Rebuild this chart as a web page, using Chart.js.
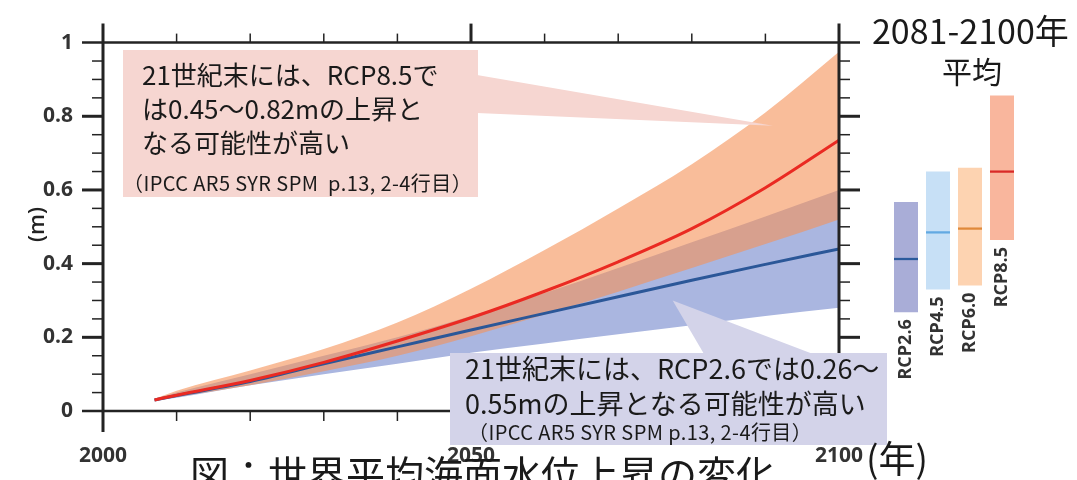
<!DOCTYPE html>
<html lang="ja">
<head>
<meta charset="utf-8">
<script src="https://cdn.jsdelivr.net/npm/chart.js@4.4.1/dist/chart.umd.min.js"></script>
<style>
  html, body { margin: 0; padding: 0; background: #fff; }
  body { width: 1077px; height: 480px; position: relative; overflow: hidden; font-family: "Noto Sans CJK JP", "Noto Sans", sans-serif; color: #1a1a1a; }
  canvas { position: absolute; top: 0; }
  #main { left: 0; }
  #bars { left: 890px; }
  .t { position: absolute; white-space: pre; }
  .big { font-size: 26px; line-height: 34px; }
  .small { font-size: 20px; line-height: 22px; letter-spacing: 0.4px; }
</style>
</head>
<body>
<canvas id="main" width="1077" height="480"></canvas>
<canvas id="bars" width="128" height="480"></canvas>

<div class="t big" style="left:142px; top:57px;">21世紀末には、RCP8.5で
は0.45～0.82mの上昇と
なる可能性が高い</div>
<div class="t small" style="left:123px; top:172px;">（IPCC AR5 SYR SPM  p.13, 2-4行目）</div>

<div class="t big" style="left:465px; top:350px; font-size:27px; line-height:35px;">21世紀末には、RCP2.6では0.26～
0.55mの上昇となる可能性が高い</div>
<div class="t small" style="left:468px; top:421px;">（IPCC AR5 SYR SPM p.13, 2-4行目）</div>

<div class="t" style="left:872px; top:9px; font-size:34px; line-height:42px;">2081-2100年</div>
<div class="t" style="left:942px; top:52px; font-size:30px; line-height:36px;">平均</div>
<div class="t" style="left:866px; top:434px; font-size:37px; line-height:46px;">(年)</div>
<div class="t" style="left:18px; top:211px; width:34px; height:28px; font-family:'Open Sans',sans-serif; font-weight:600; font-size:22px; line-height:28px; color:#222; transform:rotate(-90deg); text-align:center;">(m)</div>
<div class="t" style="left:190px; top:449px; font-size:39px; line-height:46px;">図：世界平均海面水位上昇の変化</div>

<script>
// time series (m)
const years      = [2007, 2010, 2020, 2030, 2040, 2050, 2060, 2070, 2080, 2090, 2100];
const rcp26Mean  = [0.030, 0.042, 0.080, 0.128, 0.174, 0.220, 0.265, 0.310, 0.355, 0.398, 0.440];
const rcp26Upper = [0.032, 0.050, 0.100, 0.150, 0.200, 0.258, 0.320, 0.388, 0.458, 0.528, 0.600];
const rcp26Lower = [0.028, 0.036, 0.070, 0.100, 0.128, 0.158, 0.183, 0.208, 0.233, 0.258, 0.280];
const rcp85Mean  = [0.030, 0.043, 0.083, 0.132, 0.190, 0.253, 0.325, 0.405, 0.495, 0.606, 0.735];
const rcp85Upper = [0.033, 0.055, 0.110, 0.168, 0.240, 0.332, 0.437, 0.550, 0.670, 0.810, 0.975];
const rcp85Lower = [0.028, 0.038, 0.070, 0.108, 0.150, 0.203, 0.262, 0.324, 0.388, 0.453, 0.520];

// 2081-2100 averages
const periodLabels = ['RCP2.6', 'RCP4.5', 'RCP6.0', 'RCP8.5'];
const periodLow    = [0.26, 0.32, 0.33, 0.45];
const periodHigh   = [0.55, 0.63, 0.64, 0.83];
const periodMedian = [0.40, 0.47, 0.48, 0.63];

// axis ticks
const yTicks = [0, 0.2, 0.4, 0.6, 0.8, 1];
const xTicks = [2000, 2050, 2100];

const pts = arr => years.map((x, i) => ({ x, y: arr[i] }));

function band(data, fill, color, order) {
    return {
        data: pts(data), fill, backgroundColor: color,
        borderWidth: 0, pointRadius: 0, order,
        cubicInterpolationMode: 'monotone'
    };
}

// axes frame, ticks and the two callout boxes
const frame = {
    id: 'frame',
    afterDraw(chart) {
        const { ctx, chartArea: a, scales: { x, y } } = chart;
        const line = (x1, y1, x2, y2, w) => {
            ctx.lineWidth = w;
            ctx.beginPath();
            ctx.moveTo(x1, y1);
            ctx.lineTo(x2, y2);
            ctx.stroke();
        };
        ctx.save();
        ctx.strokeStyle = '#232323';
        line(a.left, a.top - 19, a.left, a.bottom + 21, 3);
        line(a.right, a.top - 19, a.right, a.bottom + 21, 3);
        line(a.left - 21, a.top, a.right + 21, a.top, 2.5);
        line(a.left - 21, a.bottom, a.right + 21, a.bottom, 2.5);

        for (let k = 1; k < 20; k++) {
            const py = y.getPixelForValue(k * 0.05);
            if (k % 4 === 0) {
                line(a.left - 21, py, a.left, py, 3);
                line(a.right, py, a.right + 21, py, 3);
            } else {
                line(a.left - 11, py, a.left, py, 1.5);
                line(a.right, py, a.right + 11, py, 1.5);
            }
        }
        for (let yr = 2010; yr < 2100; yr += 10) {
            const px = x.getPixelForValue(yr);
            if (yr === 2050) {
                line(px, a.top - 19, px, a.top, 3);
                line(px, a.bottom, px, a.bottom + 21, 3);
            } else {
                line(px, a.top - 9, px, a.top, 1.5);
                line(px, a.bottom, px, a.bottom + 10, 1.5);
            }
        }

        // pink callout
        ctx.fillStyle = '#f6d6d1';
        ctx.fillRect(123, 50, 355, 147);
        ctx.beginPath();
        ctx.moveTo(477, 75);
        ctx.lineTo(x.getPixelForValue(2091), y.getPixelForValue(0.774));
        ctx.lineTo(477, 113);
        ctx.closePath();
        ctx.fill();

        // lavender callout
        ctx.fillStyle = '#d3d3e9';
        ctx.fillRect(450, 353, 437, 92);
        ctx.beginPath();
        ctx.moveTo(704, 354);
        ctx.lineTo(x.getPixelForValue(2077.4), y.getPixelForValue(0.30));
        ctx.lineTo(813, 354);
        ctx.closePath();
        ctx.fill();
        ctx.restore();
    }
};

const tickFont = { family: "'Liberation Sans Narrow', 'Open Sans', sans-serif", size: 21, weight: 'bold' };

new Chart(document.getElementById('main'), {
    type: 'line',
    data: {
        datasets: [
            band(rcp26Upper, false, 'transparent', 3),
            band(rcp26Lower, 0, '#aab6e0', 3),
            band(rcp85Upper, false, 'transparent', 2),
            band(rcp85Lower, 2, 'rgba(245,145,87,0.6)', 2),
            {
                data: pts(rcp26Mean), borderColor: '#2b5798', borderWidth: 3,
                pointRadius: 0, fill: false, order: 1, cubicInterpolationMode: 'monotone'
            },
            {
                data: pts(rcp85Mean), borderColor: '#ea2a22', borderWidth: 3,
                pointRadius: 0, fill: false, order: 0, cubicInterpolationMode: 'monotone'
            }
        ]
    },
    options: {
        responsive: false,
        animation: false,
        layout: { padding: { left: 0, right: 238, top: 31, bottom: 0 } },
        plugins: {
            legend: { display: false },
            tooltip: { enabled: false },
            filler: { drawTime: 'beforeDatasetsDraw' }
        },
        scales: {
            x: {
                type: 'linear', min: 2000, max: 2100,
                grid: { display: false, drawTicks: false },
                border: { display: false },
                afterFit: s => { s.height = 69; },
                afterBuildTicks: s => { s.ticks = xTicks.map(v => ({ value: v })); },
                ticks: { padding: 32, color: '#333', font: tickFont, maxRotation: 0, callback: v => String(v) }
            },
            y: {
                min: 0, max: 1,
                grid: { display: false, drawTicks: false },
                border: { display: false },
                afterFit: s => { s.width = 103; },
                afterBuildTicks: s => { s.ticks = yTicks.map(v => ({ value: v })); },
                ticks: { padding: 30, color: '#333', font: tickFont, callback: v => String(+v.toFixed(1)) }
            }
        }
    },
    plugins: [frame]
});

// rotated scenario names under each bar
const barNames = {
    id: 'barNames',
    afterDatasetsDraw(chart) {
        const { ctx } = chart;
        ctx.save();
        ctx.fillStyle = '#333';
        ctx.font = "bold 18px 'Open Sans', sans-serif";
        ctx.textAlign = 'right';
        ctx.textBaseline = 'middle';
        chart.getDatasetMeta(0).data.forEach((bar, i) => {
            const bottom = Math.max(bar.y, bar.base);
            ctx.save();
            ctx.translate(bar.x, bottom + 7);
            ctx.rotate(-Math.PI / 2);
            ctx.fillText(periodLabels[i], 0, 0);
            ctx.restore();
        });
        ctx.restore();
    }
};

new Chart(document.getElementById('bars'), {
    type: 'bar',
    data: {
        labels: periodLabels,
        datasets: [
            {
                data: periodLabels.map((_, i) => [periodLow[i], periodHigh[i]]),
                backgroundColor: ['#a9add7', '#c7e0f6', '#fdd3b1', '#f9b69d'],
                grouped: false, order: 1, barPercentage: 0.75, categoryPercentage: 1
            },
            {
                data: periodMedian.map(m => [m - 0.003, m + 0.003]),
                backgroundColor: ['#2b5a9c', '#62a9e2', '#e0893a', '#d92a28'],
                grouped: false, order: 0, barPercentage: 0.75, categoryPercentage: 1
            }
        ]
    },
    options: {
        responsive: false,
        animation: false,
        layout: { padding: { left: 0, right: 0, top: 31, bottom: 69 } },
        plugins: { legend: { display: false }, tooltip: { enabled: false } },
        scales: {
            x: { display: false },
            y: { display: false, min: 0, max: 1 }
        }
    },
    plugins: [barNames]
});
</script>
</body>
</html>
